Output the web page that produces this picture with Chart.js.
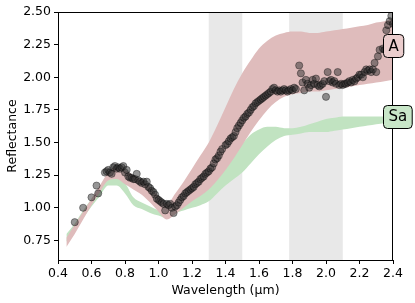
<!DOCTYPE html>
<html>
<head>
<meta charset="utf-8">
<script src="https://cdn.jsdelivr.net/npm/chart.js@4/dist/chart.umd.min.js"></script>
<style>
  body { margin: 0; background: #fff; }
  canvas { display: block; }
</style>
</head>
<body>
<canvas id="grafica" width="415" height="303"></canvas>
<script>
'use strict';

// ── Datos ─────────────────────────────────────────────────────
const xTicks = [0.4, 0.6, 0.8, 1.0, 1.2, 1.4, 1.6, 1.8, 2.0, 2.2, 2.4];
const yTicks = [0.75, 1.00, 1.25, 1.50, 1.75, 2.00, 2.25, 2.50];

// bandas de absorción (gris)
const spans = [[1.3, 1.5], [1.78, 2.1]];

// bandas de los tipos A y Sa
const bandX = [0.45, 0.5, 0.55, 0.6, 0.65, 0.7, 0.75, 0.8, 0.85, 0.9, 0.95, 1.0, 1.05, 1.1, 1.15, 1.2,
    1.25, 1.3, 1.35, 1.4, 1.45, 1.5, 1.55, 1.6, 1.65, 1.7, 1.75, 1.8, 1.85, 1.9, 1.95, 2.0, 2.05, 2.1,
    2.15, 2.2, 2.25, 2.3, 2.35, 2.4];
const aLow = [0.70, 0.80, 0.91, 1.02, 1.12, 1.21, 1.22, 1.18, 1.14, 1.10, 1.04, 0.97, 0.91, 0.95, 1.00, 1.05,
    1.09, 1.14, 1.21, 1.29, 1.38, 1.48, 1.58, 1.67, 1.75, 1.81, 1.85, 1.87, 1.88, 1.89, 1.89, 1.90, 1.91, 1.92,
    1.93, 1.94, 1.95, 1.96, 1.97, 1.98];
const aHigh = [0.77, 0.87, 0.97, 1.07, 1.17, 1.27, 1.31, 1.29, 1.25, 1.21, 1.16, 1.09, 1.03, 1.11, 1.20, 1.30,
    1.40, 1.50, 1.63, 1.77, 1.91, 2.03, 2.13, 2.22, 2.28, 2.32, 2.34, 2.35, 2.35, 2.34, 2.34, 2.35, 2.36, 2.37,
    2.38, 2.39, 2.40, 2.42, 2.43, 2.45];
const saLow = [0.74, 0.83, 0.92, 1.01, 1.09, 1.17, 1.17, 1.11, 1.02, 0.99, 0.96, 0.94, 0.92, 0.96, 0.98, 1.00,
    1.02, 1.05, 1.11, 1.17, 1.22, 1.27, 1.34, 1.41, 1.47, 1.52, 1.55, 1.56, 1.57, 1.58, 1.58, 1.58, 1.59, 1.60,
    1.61, 1.62, 1.63, 1.64, 1.65, 1.66];
const saHigh = [0.80, 0.88, 0.98, 1.07, 1.15, 1.25, 1.23, 1.19, 1.08, 1.04, 1.01, 0.98, 0.97, 1.02, 1.06, 1.09,
    1.12, 1.17, 1.23, 1.31, 1.40, 1.49, 1.56, 1.60, 1.62, 1.62, 1.61, 1.61, 1.62, 1.64, 1.66, 1.68, 1.69, 1.70,
    1.70, 1.70, 1.70, 1.70, 1.70, 1.71];

// espectro medido
const specX = [0.50, 0.55, 0.60, 0.63, 0.64, 0.68, 0.69, 0.70, 0.71, 0.72, 0.73, 0.74, 0.75, 0.76, 0.77, 0.78,
    0.79, 0.80, 0.81, 0.82, 0.83, 0.84, 0.85, 0.86, 0.87, 0.88, 0.89, 0.90, 0.91, 0.92, 0.93, 0.94, 0.95, 0.96,
    0.97, 0.98, 0.99, 1.00, 1.01, 1.02, 1.03, 1.04, 1.05, 1.06, 1.07, 1.08, 1.09, 1.10, 1.11, 1.12, 1.13, 1.14,
    1.15, 1.16, 1.17, 1.18, 1.19, 1.20, 1.21, 1.22, 1.23, 1.24, 1.25, 1.26, 1.27, 1.28, 1.29, 1.30, 1.31, 1.32,
    1.33, 1.34, 1.35, 1.36, 1.37, 1.38, 1.40, 1.41, 1.42, 1.43, 1.44, 1.45, 1.46, 1.47, 1.48, 1.49, 1.50, 1.51,
    1.52, 1.53, 1.54, 1.55, 1.56, 1.57, 1.58, 1.59, 1.60, 1.61, 1.62, 1.63, 1.64, 1.65, 1.66, 1.67, 1.68, 1.69,
    1.70, 1.71, 1.72, 1.73, 1.74, 1.75, 1.76, 1.77, 1.78, 1.79, 1.80, 1.81, 1.82, 1.84, 1.85, 1.86, 1.87, 1.88,
    1.89, 1.90, 1.91, 1.92, 1.93, 1.94, 1.95, 1.96, 1.97, 1.98, 1.99, 2.00, 2.01, 2.02, 2.03, 2.04, 2.05, 2.06,
    2.07, 2.08, 2.09, 2.10, 2.11, 2.12, 2.13, 2.14, 2.15, 2.16, 2.17, 2.18, 2.19, 2.20, 2.21, 2.22, 2.23, 2.24,
    2.25, 2.26, 2.27, 2.28, 2.29, 2.30, 2.31, 2.32, 2.34, 2.35, 2.36, 2.37, 2.38, 2.39, 2.40];
const specY = [0.89, 1.00, 1.08, 1.17, 1.11, 1.27, 1.28, 1.29, 1.27, 1.26, 1.31, 1.32, 1.30, 1.31, 1.30, 1.31,
    1.32, 1.27, 1.29, 1.24, 1.23, 1.23, 1.22, 1.22, 1.26, 1.21, 1.20, 1.19, 1.20, 1.18, 1.20, 1.16, 1.15, 1.13,
    1.12, 1.10, 1.07, 1.06, 1.05, 1.04, 1.03, 0.98, 1.03, 1.02, 1.03, 1.00, 0.96, 1.01, 1.02, 1.04, 1.06, 1.08,
    1.09, 1.11, 1.12, 1.13, 1.14, 1.15, 1.16, 1.18, 1.19, 1.20, 1.22, 1.23, 1.24, 1.26, 1.27, 1.28, 1.30, 1.31,
    1.34, 1.37, 1.38, 1.40, 1.43, 1.45, 1.48, 1.49, 1.51, 1.53, 1.54, 1.55, 1.58, 1.61, 1.63, 1.65, 1.67, 1.69,
    1.70, 1.72, 1.73, 1.75, 1.77, 1.78, 1.80, 1.81, 1.82, 1.83, 1.84, 1.85, 1.86, 1.87, 1.88, 1.89, 1.91, 1.92,
    1.90, 1.89, 1.90, 1.89, 1.90, 1.91, 1.90, 1.89, 1.90, 1.91, 1.90, 1.92, 1.91, 2.09, 2.03, 1.96, 1.90, 1.98,
    1.95, 1.92, 1.94, 1.98, 1.95, 1.99, 1.94, 1.93, 1.94, 1.95, 1.97, 1.85, 2.04, 1.97, 1.98, 1.96, 1.97, 1.95,
    2.04, 1.94, 1.95, 1.94, 1.95, 1.95, 1.96, 1.97, 1.96, 1.98, 1.97, 1.99, 2.00, 2.02, 2.02, 2.00, 2.04, 2.06,
    2.05, 2.06, 2.04, 2.06, 2.11, 2.04, 2.16, 2.21, 2.22, 2.21, 2.36, 2.40, 2.43, 2.47, 2.41];

// etiquetas de tipo: texto, reflectancia, colores
const etiquetas = [
    { texto: 'A', y: 2.24, fondo: '#ebcdcd' },
    { texto: 'Sa', y: 1.70, fondo: '#c8e6c8' }
];

// ── Construcción ──────────────────────────────────────────────
const puntos = (xs, ys) => xs.map((x, i) => ({ x: x, y: ys[i] }));

const COLOR_A = '#dfbcbc';
const COLOR_SA = '#c1e3c1';
const FUENTE = 'DejaVu Sans';

const pluginBandas = {
    id: 'bandas',
    beforeDatasetsDraw(chart) {
        const { ctx, chartArea, scales } = chart;
        ctx.save();
        ctx.fillStyle = '#e8e8e8';
        spans.forEach(([a, b]) => {
            const x0 = scales.x.getPixelForValue(a);
            const x1 = scales.x.getPixelForValue(b);
            ctx.fillRect(x0, chartArea.top, x1 - x0, chartArea.bottom - chartArea.top);
        });
        ctx.restore();
    }
};

const pluginMarco = {
    id: 'marco',
    afterDraw(chart) {
        const { ctx, chartArea, scales } = chart;
        ctx.save();
        ctx.strokeStyle = '#000';
        ctx.lineWidth = 1;
        ctx.strokeRect(chartArea.left + 0.5, chartArea.top + 0.5,
            chartArea.right - chartArea.left - 1, chartArea.bottom - chartArea.top);

        // cajas de etiqueta a la derecha
        ctx.font = `15px '${FUENTE}'`;
        ctx.textBaseline = 'middle';
        ctx.textAlign = 'left';
        etiquetas.forEach(et => {
            const ancho = ctx.measureText(et.texto).width + 10;
            const alto = 23;
            const x0 = chartArea.right - 9.5;
            const yc = scales.y.getPixelForValue(et.y);
            ctx.beginPath();
            ctx.roundRect(x0, Math.round(yc - alto / 2) + 0.5, ancho, alto, 4);
            ctx.fillStyle = et.fondo;
            ctx.fill();
            ctx.strokeStyle = '#000';
            ctx.stroke();
            ctx.fillStyle = '#000';
            ctx.fillText(et.texto, x0 + 5, yc + 1);
        });
        ctx.restore();
    }
};

const banda = (ys, color, relleno, orden) => ({
    type: 'line',
    data: puntos(bandX, ys),
    borderWidth: 0,
    borderColor: 'transparent',
    backgroundColor: color,
    pointRadius: 0,
    cubicInterpolationMode: 'monotone',
    fill: relleno,
    order: orden
});

new Chart(document.getElementById('grafica').getContext('2d'), {
    type: 'scatter',
    data: {
        datasets: [
            banda(saLow, COLOR_SA, false, 2),
            banda(saHigh, COLOR_SA, '-1', 2),
            banda(aLow, COLOR_A, false, 1),
            banda(aHigh, COLOR_A, '-1', 1),
            {
                data: puntos(specX, specY),
                backgroundColor: 'rgba(45,45,45,0.5)',
                borderColor: 'rgba(0,0,0,0.45)',
                borderWidth: 0.8,
                pointRadius: 3.6,
                order: 0
            }
        ]
    },
    options: {
        responsive: false,
        animation: false,
        layout: { padding: { top: 12, right: 22, left: 0, bottom: 0 } },
        plugins: {
            legend: { display: false },
            tooltip: { enabled: false }
        },
        scales: {
            x: {
                type: 'linear',
                min: 0.4,
                max: 2.4,
                afterBuildTicks: s => { s.ticks = xTicks.map(v => ({ value: v })); },
                afterFit: s => { s.height = 43; },
                grid: { drawOnChartArea: false, color: '#000', tickLength: 4 },
                border: { color: '#000' },
                ticks: {
                    color: '#000',
                    padding: 2,
                    maxRotation: 0,
                    font: { family: FUENTE, size: 12.5 },
                    callback: v => Number(v).toFixed(1)
                },
                title: {
                    display: true,
                    text: 'Wavelength (μm)',
                    color: '#000',
                    font: { family: FUENTE, size: 12.5 },
                    padding: { top: 0, bottom: 5 }
                }
            },
            y: {
                min: 0.6,
                max: 2.5,
                afterBuildTicks: s => { s.ticks = yTicks.map(v => ({ value: v })); },
                afterFit: s => { s.width = 58; },
                grid: { drawOnChartArea: false, color: '#000', tickLength: 4 },
                border: { color: '#000' },
                ticks: {
                    color: '#000',
                    padding: 3,
                    font: { family: FUENTE, size: 12.5 },
                    callback: v => Number(v).toFixed(2)
                },
                title: {
                    display: true,
                    text: 'Reflectance',
                    color: '#000',
                    font: { family: FUENTE, size: 12.5 },
                    padding: { top: 5, bottom: 0 }
                }
            }
        }
    },
    plugins: [pluginBandas, pluginMarco]
});
</script>
</body>
</html>
